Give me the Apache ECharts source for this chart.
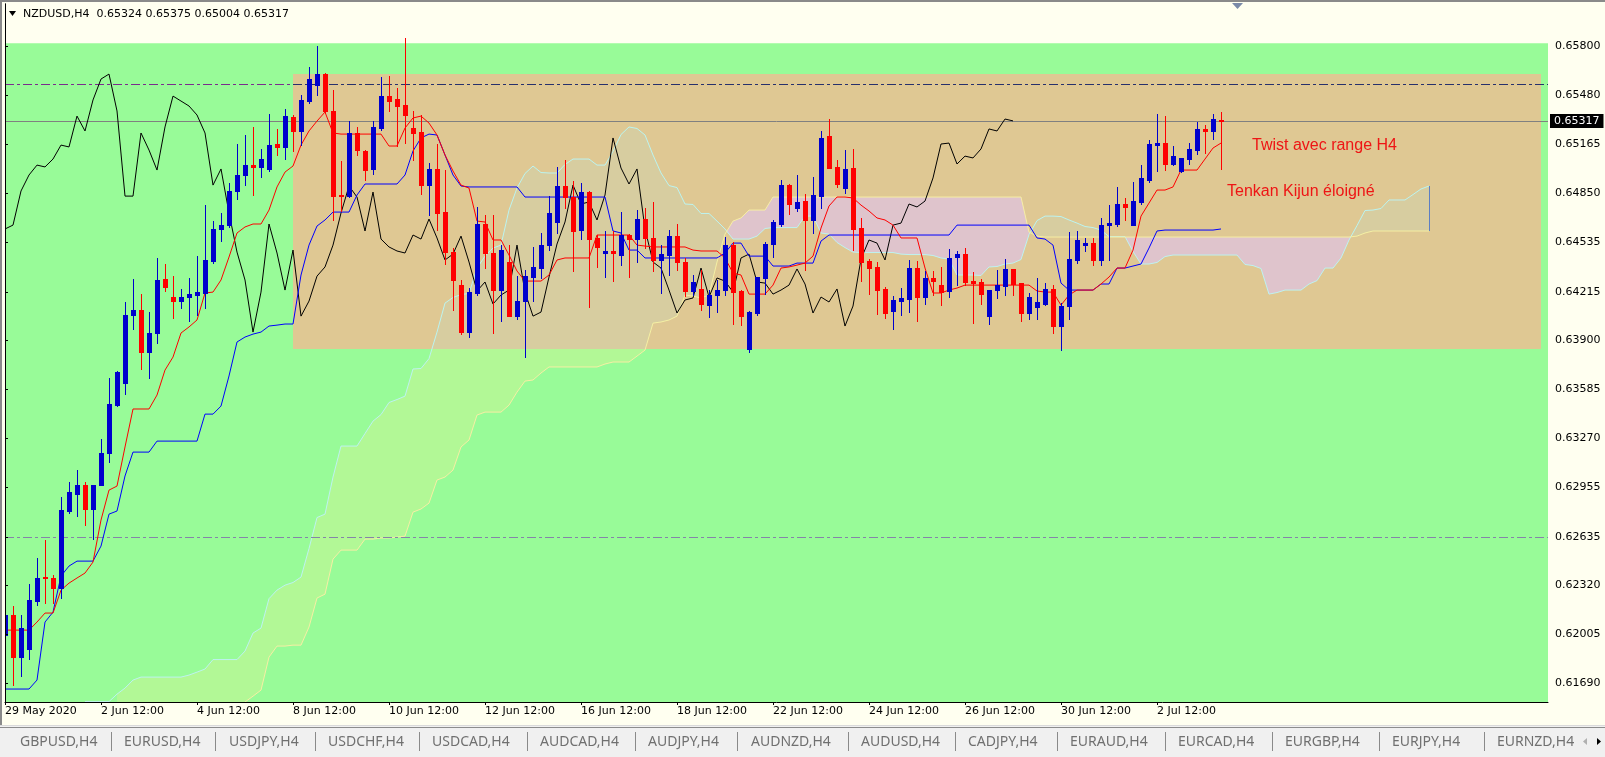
<!DOCTYPE html>
<html>
<head>
<meta charset="utf-8">
<title>NZDUSD,H4</title>
<script src="https://cdn.jsdelivr.net/npm/echarts@6.0.0/dist/echarts.min.js"></script>
<style>
  html, body { margin: 0; padding: 0; background: #FFFFF0; }
  #chart { width: 1605px; height: 757px; }
</style>
</head>
<body>
<div id="chart"></div>
<script>
// bougies H4 (index 0 = 29 May 2020 12:00)
var opens = [
  0.62001,0.6213,0.61859,0.61911,0.6222,0.62375,0.62369,0.62304,0.62801,0.6291,
  0.62968,0.62814,0.62968,0.63175,0.63484,0.63626,0.64065,0.64097,0.63826,0.63949,
  0.64297,0.64181,0.64155,0.64181,0.64194,0.64207,0.64413,0.6462,0.64645,0.64865,
  0.64968,0.65032,0.6502,0.65007,0.65168,0.65149,0.65342,0.65252,0.65445,0.65548,
  0.65619,0.65381,0.64839,0.64832,0.65239,0.65123,0.65007,0.65271,0.65477,0.65458,
  0.65419,0.65271,0.65245,0.64903,0.65007,0.64729,0.64471,0.64258,0.63955,0.64207,
  0.64652,0.64465,0.64226,0.64407,0.64058,0.64155,0.6431,0.64368,0.64516,0.64665,
  0.64897,0.64826,0.64613,0.64858,0.64562,0.64465,0.64478,0.64452,0.64581,0.64555,
  0.64684,0.64562,0.6442,0.64452,0.64574,0.64407,0.6422,0.64233,0.64129,0.64194,
  0.64226,0.64516,0.6422,0.63846,0.64078,0.64304,0.64523,0.64652,0.64903,0.64755,
  0.648,0.64678,0.64832,0.6522,0.6502,0.64884,0.65013,0.64626,0.64413,0.64375,
  0.64233,0.64091,0.64155,0.64168,0.64368,0.64181,0.64304,0.64258,0.6422,0.64439,
  0.64458,0.64284,0.64278,0.64058,0.64226,0.64252,0.64362,0.64271,0.64078,0.64117,
  0.64136,0.64233,0.63994,0.64123,0.6442,0.64516,0.64529,0.6442,0.64645,0.64652,
  0.64781,0.64645,0.64794,0.64936,0.65161,0.65174,0.65039,0.64994,0.65071,0.65129,
  0.65265,0.65252,0.65324
];
var highs = [
  0.62401,0.62188,0.6213,0.6233,0.62498,0.62614,0.62388,0.62891,0.62988,0.63065,
  0.62988,0.62968,0.63265,0.63659,0.63704,0.64149,0.64297,0.642,0.64084,0.64433,
  0.64394,0.64316,0.64233,0.64304,0.64445,0.64774,0.64671,0.64723,0.64916,0.65168,
  0.65226,0.65278,0.65136,0.65361,0.65265,0.65394,0.65355,0.65484,0.65665,0.658,
  0.65626,0.65516,0.65058,0.65316,0.65278,0.65129,0.65316,0.656,0.65606,0.65529,
  0.6585,0.65381,0.65355,0.65045,0.65168,0.65,0.64497,0.64291,0.64239,0.64762,
  0.6471,0.6471,0.64516,0.64516,0.64316,0.64355,0.64504,0.64594,0.64832,0.6502,
  0.65065,0.64929,0.64916,0.64865,0.64581,0.64607,0.64607,0.64729,0.64587,0.64742,
  0.64755,0.64794,0.64516,0.64613,0.64652,0.64433,0.64323,0.64355,0.64226,0.64291,
  0.64568,0.64536,0.64226,0.6409,0.6431,0.64536,0.64678,0.64936,0.6491,0.64968,
  0.64845,0.64955,0.65252,0.65329,0.65065,0.65129,0.65136,0.64691,0.64426,0.64407,
  0.64246,0.64187,0.64239,0.6442,0.64413,0.64349,0.64349,0.64375,0.64491,0.64478,
  0.64497,0.64342,0.64297,0.64226,0.64355,0.64426,0.64362,0.64271,0.64207,0.64304,
  0.64271,0.64258,0.64142,0.646,0.64607,0.64562,0.64562,0.64691,0.64774,0.64891,
  0.6482,0.64923,0.65032,0.65194,0.65361,0.65348,0.65155,0.65078,0.65174,0.6531,
  0.6529,0.65361,0.65375
];
var lows = [
  0.61988,0.61678,0.61736,0.61846,0.62194,0.62207,0.62207,0.6224,0.62788,0.62768,
  0.6271,0.6262,0.62968,0.63117,0.63478,0.63555,0.63975,0.63717,0.63659,0.63884,
  0.6422,0.64046,0.6411,0.64026,0.64065,0.6411,0.644,0.64542,0.64633,0.64813,
  0.64903,0.64839,0.64955,0.64994,0.65097,0.65071,0.65123,0.65161,0.65432,0.65484,
  0.65368,0.64678,0.64736,0.64826,0.65097,0.64936,0.64974,0.65258,0.65381,0.65155,
  0.65174,0.65065,0.64845,0.6471,0.64613,0.64394,0.64097,0.63942,0.63923,0.64194,
  0.64368,0.63949,0.64026,0.64058,0.64039,0.63794,0.64155,0.64304,0.64484,0.64594,
  0.64755,0.64349,0.64555,0.64117,0.64375,0.6431,0.64284,0.64387,0.6431,0.64407,
  0.64497,0.64349,0.64207,0.64323,0.64355,0.64187,0.64194,0.64097,0.64052,0.64084,
  0.64194,0.64007,0.64,0.63826,0.64065,0.642,0.64439,0.64639,0.64716,0.64736,
  0.64355,0.64594,0.64755,0.65013,0.64891,0.64852,0.64484,0.64284,0.642,0.64071,
  0.64046,0.63975,0.64065,0.64084,0.64026,0.64136,0.64194,0.64129,0.64181,0.64258,
  0.64258,0.64013,0.64136,0.64007,0.64175,0.64194,0.64194,0.64026,0.64039,0.64039,
  0.6413,0.63949,0.63839,0.64039,0.644,0.64478,0.64387,0.64387,0.6442,0.64639,
  0.64678,0.64645,0.64781,0.64923,0.64994,0.65,0.65035,0.64987,0.65039,0.65103,
  0.6511,0.652,0.65004
];
var closes = [
  0.6213,0.61859,0.62046,0.62227,0.62369,0.62369,0.62304,0.62807,0.62923,0.62968,
  0.62814,0.62968,0.63175,0.63491,0.63697,0.64065,0.64097,0.63826,0.63949,0.64291,
  0.64246,0.64155,0.64181,0.642,0.64213,0.6442,0.6462,0.64645,0.64865,0.64968,
  0.65032,0.6502,0.65071,0.65161,0.65149,0.65348,0.65252,0.65452,0.65587,0.65619,
  0.65381,0.64832,0.64832,0.65239,0.65129,0.65,0.65278,0.65477,0.65445,0.65413,
  0.65355,0.65239,0.64903,0.65007,0.64723,0.64471,0.64291,0.63955,0.64213,0.64652,
  0.64465,0.64226,0.64484,0.64058,0.64155,0.64316,0.64375,0.64516,0.64723,0.64897,
  0.64826,0.64607,0.64858,0.64555,0.64504,0.64478,0.64465,0.64581,0.64555,0.64684,
  0.64562,0.6442,0.64458,0.64574,0.64407,0.6422,0.64278,0.64136,0.64194,0.64226,
  0.64516,0.64213,0.64058,0.64084,0.6431,0.64523,0.64665,0.64903,0.64781,0.64794,
  0.64678,0.64839,0.65207,0.65013,0.6491,0.65007,0.6462,0.64407,0.64368,0.64226,
  0.64078,0.64162,0.64175,0.64368,0.64181,0.64304,0.64284,0.64213,0.64433,0.64458,
  0.64278,0.64271,0.642,0.64226,0.64258,0.64362,0.64265,0.64078,0.64181,0.64149,
  0.64233,0.63994,0.64123,0.64426,0.64549,0.64529,0.6442,0.64645,0.64658,0.64781,
  0.64762,0.648,0.64949,0.65168,0.65174,0.65039,0.6509,0.65078,0.65136,0.65265,
  0.65252,0.65329,0.65317
];

// Ichimoku
var tenkan = [
  0.62033,0.62033,0.62033,0.62033,0.62085,0.62143,0.62143,0.62291,0.62336,0.62369,
  0.62401,0.62472,0.62743,0.62936,0.62962,0.63214,0.63459,0.63459,0.63459,0.63549,
  0.6371,0.63794,0.63949,0.63988,0.64033,0.64207,0.64213,0.64291,0.64439,0.64594,
  0.64633,0.64652,0.64652,0.64742,0.64891,0.64987,0.65026,0.65161,0.65252,0.65316,
  0.65374,0.65239,0.65232,0.65232,0.65232,0.65232,0.65232,0.65232,0.65155,0.65155,
  0.65271,0.65336,0.65348,0.65303,0.65226,0.65097,0.64994,0.64903,0.64884,0.64671,
  0.64665,0.64549,0.64549,0.64452,0.64349,0.64284,0.64284,0.64284,0.64323,0.6442,
  0.64433,0.64433,0.64433,0.64433,0.64581,0.64581,0.64581,0.64581,0.64581,0.64516,
  0.6451,0.64504,0.64504,0.64504,0.64504,0.64504,0.64484,0.64478,0.64478,0.64478,
  0.64433,0.64336,0.64323,0.642,0.642,0.642,0.64258,0.64368,0.64375,0.64387,
  0.644,0.64445,0.64626,0.64768,0.64826,0.64826,0.6482,0.64774,0.64736,0.64691,
  0.64678,0.64645,0.64562,0.64562,0.64562,0.64368,0.64207,0.64207,0.64226,0.64239,
  0.64258,0.64258,0.64258,0.64258,0.64258,0.64258,0.64258,0.64258,0.64258,0.6422,
  0.64213,0.64213,0.64129,0.64194,0.64226,0.64226,0.64226,0.64265,0.6431,0.64368,
  0.64368,0.64484,0.64703,0.64787,0.64871,0.64871,0.64891,0.65,0.65,0.65,
  0.65071,0.65142,0.65174
];
var kijun = [
  0.61653,0.61653,0.61653,0.61653,0.61711,0.62085,0.62149,0.62382,0.62446,0.62478,
  0.62478,0.62478,0.62575,0.62781,0.62801,0.63027,0.63181,0.63181,0.63181,0.63252,
  0.63252,0.63252,0.63252,0.63252,0.63252,0.63426,0.63426,0.63478,0.63672,0.63891,
  0.63923,0.63942,0.63955,0.63994,0.64,0.64007,0.64007,0.64323,0.64516,0.64639,
  0.64678,0.64729,0.64729,0.64729,0.64839,0.6491,0.6491,0.6491,0.6491,0.6491,
  0.64968,0.65123,0.65207,0.65232,0.65226,0.65097,0.64968,0.64897,0.64891,0.64891,
  0.64891,0.64891,0.64891,0.64891,0.64891,0.64826,0.64826,0.64826,0.64826,0.64826,
  0.64826,0.64826,0.64826,0.64826,0.64826,0.64826,0.64607,0.64594,0.64484,0.64484,
  0.64433,0.64433,0.64433,0.64433,0.64433,0.64433,0.64433,0.64433,0.64433,0.64433,
  0.64465,0.64529,0.64529,0.64445,0.64445,0.64445,0.64381,0.64381,0.64381,0.644,
  0.644,0.644,0.64542,0.64581,0.64581,0.64581,0.64581,0.64581,0.64581,0.64581,
  0.64581,0.64581,0.64581,0.64581,0.64581,0.64581,0.64581,0.64581,0.64581,0.64645,
  0.64645,0.64645,0.64645,0.64645,0.64645,0.64645,0.64645,0.64645,0.64645,0.64562,
  0.64555,0.64516,0.64271,0.64226,0.64226,0.64226,0.64226,0.64265,0.64265,0.64368,
  0.64368,0.64381,0.64394,0.64497,0.64607,0.64613,0.64613,0.64613,0.64613,0.64613,
  0.64613,0.64613,0.6462
];
// Senkou A / B (index = barre, projetees 26 barres en avant)
var spanA = [
  null,null,null,null,null,null,null,null,null,null,
  0.61572,0.61572,0.61572,0.61572,0.6162,0.61659,0.61711,0.6173,0.6173,0.6173,
  0.6173,0.6173,0.6173,0.61743,0.61762,0.61782,0.61843,0.61843,0.61843,0.61843,
  0.61898,0.62014,0.62046,0.62236,0.62291,0.62323,0.6234,0.62375,0.62559,0.62759,
  0.62781,0.6302,0.6322,0.6322,0.6322,0.63301,0.63381,0.63423,0.63501,0.6352,
  0.63542,0.63717,0.6372,0.63784,0.63955,0.64142,0.64178,0.64197,0.64204,0.64368,
  0.64445,0.64497,0.64516,0.64742,0.64884,0.64978,0.65026,0.64984,0.64981,0.64981,
  0.65036,0.65071,0.65071,0.65071,0.65032,0.65032,0.6512,0.65229,0.65278,0.65268,
  0.65226,0.65097,0.64981,0.649,0.64887,0.64781,0.64778,0.6472,0.6472,0.64671,
  0.6462,0.64555,0.64555,0.64555,0.64574,0.64623,0.64629,0.64629,0.64629,0.64629,
  0.64703,0.64703,0.64594,0.64587,0.64533,0.645,0.64471,0.64468,0.64468,0.64468,
  0.64468,0.64468,0.64458,0.64455,0.64455,0.64455,0.64449,0.64433,0.64426,0.64323,
  0.64323,0.64323,0.6432,0.64375,0.64378,0.64394,0.644,0.64423,0.64584,0.64674,
  0.64703,0.64703,0.647,0.64678,0.64658,0.64636,0.64629,0.64613,0.64571,0.64571,
  0.64571,0.64475,0.64394,0.64394,0.64404,0.64442,0.64452,0.64452,0.64452,0.64452,
  0.64452,0.64452,0.64452,0.64452,0.64452,0.64391,0.64384,0.64365,0.642,0.6421,
  0.64226,0.64226,0.64226,0.64265,0.64287,0.64368,0.64368,0.64433,0.64549,0.64642,
  0.64739,0.64742,0.64752,0.64807,0.64807,0.64807,0.64842,0.64878,0.64897
];
var spanB = [
  null,null,null,null,null,null,null,null,null,null,
  null,null,null,null,0.6145,0.6145,0.6145,0.6145,0.6145,0.6145,
  0.6145,0.6145,0.6145,0.6145,0.6145,0.6145,0.6145,0.6145,0.6145,0.6145,
  0.61569,0.61607,0.61646,0.61859,0.6193,0.6193,0.61936,0.61936,0.62053,0.6224,
  0.62265,0.62491,0.62549,0.62549,0.62549,0.6262,0.6262,0.62627,0.62627,0.62633,
  0.62639,0.62794,0.62814,0.62852,0.63001,0.6302,0.63065,0.63214,0.63259,0.6342,
  0.63439,0.63439,0.63439,0.63484,0.63568,0.63639,0.63646,0.63691,0.6373,0.6373,
  0.6373,0.6373,0.6373,0.6373,0.6373,0.63749,0.63762,0.63762,0.63762,0.638,
  0.63839,0.64013,0.6402,0.64033,0.64058,0.64194,0.64187,0.64175,0.64194,0.64407,
  0.64587,0.64671,0.64691,0.64742,0.64742,0.64742,0.64826,0.64826,0.64826,0.64826,
  0.64826,0.64826,0.64826,0.64826,0.64826,0.64826,0.64826,0.64826,0.64826,0.64826,
  0.64826,0.64826,0.64826,0.64826,0.64826,0.64826,0.64826,0.64826,0.64826,0.64826,
  0.64826,0.64826,0.64826,0.64826,0.64826,0.64826,0.64826,0.64826,0.646,0.64574,
  0.64568,0.64568,0.64568,0.64568,0.64568,0.64568,0.64568,0.64568,0.64568,0.64568,
  0.64568,0.64568,0.64568,0.64568,0.64568,0.64568,0.64568,0.64568,0.64568,0.64568,
  0.64568,0.64568,0.64568,0.64568,0.64568,0.64568,0.64568,0.64568,0.64568,0.64568,
  0.64568,0.64568,0.64568,0.64568,0.64568,0.64568,0.64568,0.64568,0.64568,0.64574,
  0.64594,0.64607,0.64607,0.64607,0.64607,0.64607,0.64607,0.64607,0.64607
];

var timeLabels = ['29 May 2020','2 Jun 12:00','4 Jun 12:00','8 Jun 12:00','10 Jun 12:00','12 Jun 12:00',
  '16 Jun 12:00','18 Jun 12:00','22 Jun 12:00','24 Jun 12:00','26 Jun 12:00','30 Jun 12:00','2 Jul 12:00'];
var labelBars = [0,12,24,36,48,60,72,84,96,108,120,132,144];
var priceTicks = [0.658,0.6548,0.65165,0.6485,0.64535,0.64215,0.639,0.63585,0.6327,0.62955,0.62635,0.6232,0.62005,0.6169];
var levels = [0.65555, 0.62635];          // lignes horizontales tiret-point
var greenZone = [0.6500, 0.65817];        // haut du rectangle vert
var rangeBox = { x1: 36, x2: 192, y1: 0.638459, y2: 0.656194 }; // range H4 (beige)
var tabs = ['GBPUSD,H4','EURUSD,H4','USDJPY,H4','USDCHF,H4','USDCAD,H4','AUDCAD,H4','AUDJPY,H4','AUDNZD,H4',
  'AUDUSD,H4','CADJPY,H4','EURAUD,H4','EURCAD,H4','EURGBP,H4','EURJPY,H4','EURNZD,H4'];

var last = closes.length - 1;
var Y_MIN = 0.615694, Y_MAX = 0.660709, X_MAX = 192.875;
var FONT = 'DejaVu Sans';

function pairs(arr) {
  var out = [];
  for (var i = 0; i < arr.length; i++) {
    if (arr[i] != null) out.push([i, arr[i]]);
  }
  return out;
}

// bougies façon MT4 : corps 5px, meche 1px
function renderCandle(params, api) {
  var x = api.value(0), o = api.value(1), c = api.value(2), l = api.value(3), h = api.value(4);
  var pO = api.coord([x, o]), pC = api.coord([x, c]);
  var pL = api.coord([x, l]), pH = api.coord([x, h]);
  var cx = Math.round(pO[0]);
  var color = c >= o ? '#0000CD' : '#FF0000';
  var top = Math.round(Math.min(pO[1], pC[1])), bot = Math.round(Math.max(pO[1], pC[1]));
  var hy = Math.round(pH[1]), ly = Math.round(pL[1]);
  return {
    type: 'group',
    children: [
      { type: 'rect', shape: { x: cx, y: hy, width: 1, height: Math.max(1, ly - hy + 1) }, style: { fill: color } },
      { type: 'rect', shape: { x: cx - 2, y: top, width: 5, height: Math.max(1, bot - top + 1) }, style: { fill: color } }
    ]
  };
}

// nuage : polygones par zone de meme signe (A-B)
function cloudRenderer(upColor, dnColor, withEnd) {
  return function (params, api) {
    var children = [];
    var runA = [], runB = [], sign = 0, prev = -1;
    function flush() {
      if (runA.length > 1) {
        children.push({
          type: 'polygon',
          shape: { points: runA.concat(runB.slice().reverse()) },
          style: { fill: sign >= 0 ? upColor : dnColor }
        });
      }
    }
    for (var i = 0; i < spanA.length; i++) {
      var a = spanA[i], b = spanB[i];
      if (a == null || b == null) continue;
      var d = a - b;
      var s = d > 0 ? 1 : (d < 0 ? -1 : sign);
      if (prev < 0) {
        sign = s;
        runA.push(api.coord([i, a])); runB.push(api.coord([i, b]));
        prev = i;
        continue;
      }
      if (s !== sign && sign !== 0) {
        var pa = spanA[prev], pb = spanB[prev], pd = pa - pb;
        var t = pd / (pd - d);
        var pc = api.coord([prev + t, pa + t * (a - pa)]);
        runA.push(pc); runB.push(pc);
        flush();
        runA = [pc]; runB = [pc];
        sign = s;
      }
      runA.push(api.coord([i, a])); runB.push(api.coord([i, b]));
      prev = i;
    }
    flush();
    if (withEnd) {
      var e = spanA.length - 1;
      var p1 = api.coord([e, spanA[e]]), p2 = api.coord([e, spanB[e]]);
      var ex = Math.round(p1[0]) + 0.5;
      children.push({ type: 'line', shape: { x1: ex, y1: p1[1], x2: ex, y2: p2[1] },
        style: { stroke: '#5B7FC4', lineWidth: 1 } });
    }
    return { type: 'group', children: children };
  };
}

var candleData = opens.map(function (o, i) { return [i, o, closes[i], lows[i], highs[i]]; });
var chikouData = closes.slice(26).map(function (c, i) { return [i, c]; });

var dashDot = [9, 3, 3, 3];
var bid = closes[last];

var graphics = [];
// en-tete
graphics.push({ type: 'polygon', shape: { points: [[9, 11], [16, 11], [12.5, 16]] }, style: { fill: '#000' } });
graphics.push({ type: 'text', x: 23, y: 14, style: {
  text: 'NZDUSD,H4  ' + [opens[last], highs[last], lows[last], closes[last]].map(function (v) { return v.toFixed(5); }).join(' '),
  font: '11px "' + FONT + '"', fill: '#000', verticalAlign: 'middle' } });
// repere de decalage
graphics.push({ type: 'polygon', shape: { points: [[1232, 3], [1243, 3], [1237.5, 9]] }, style: { fill: '#7A8AA8' } });
// annotations
graphics.push({ type: 'text', x: 1252, y: 146, style: { text: 'Twist avec range H4',
  font: '16px "Liberation Sans"', fill: '#EE1515', verticalAlign: 'middle' } });
graphics.push({ type: 'text', x: 1227, y: 192, style: { text: 'Tenkan Kijun éloigné',
  font: '16px "Liberation Sans"', fill: '#EE1515', verticalAlign: 'middle' } });
// cadre
graphics.push({ type: 'rect', shape: { x: 0, y: 0, width: 2, height: 726 }, style: { fill: '#8A8A8A' } });
graphics.push({ type: 'rect', shape: { x: 0, y: 0, width: 1605, height: 2 }, style: { fill: '#8A8A8A' } });
// barre d'onglets
graphics.push({ type: 'rect', shape: { x: 0, y: 725, width: 1605, height: 32 }, style: { fill: '#F0F0F0' } });
graphics.push({ type: 'rect', shape: { x: 0, y: 725, width: 1605, height: 1 }, style: { fill: '#DADADA' } });
graphics.push({ type: 'rect', shape: { x: 0, y: 727, width: 1605, height: 1 }, style: { fill: '#8C8C8C' } });
var tabX = [20, 124, 229, 328, 432, 540, 648, 751, 861, 968, 1070, 1178, 1285, 1392, 1497];
var sepX = [111.5, 215.5, 315.5, 419.5, 527.5, 635.5, 737.5, 848.5, 955.5, 1057.5, 1165.5, 1272.5, 1379.5, 1484.5];
tabs.forEach(function (t, i) {
  graphics.push({ type: 'text', x: tabX[i], y: 742, style: { text: t, font: '14px "Noto Sans"', fill: '#707070', verticalAlign: 'middle' } });
});
sepX.forEach(function (x) {
  graphics.push({ type: 'line', shape: { x1: x, y1: 732, x2: x, y2: 751 }, style: { stroke: '#8A8A8A', lineWidth: 1 } });
});
graphics.push({ type: 'rect', shape: { x: 1579, y: 729, width: 26, height: 28 }, style: { fill: '#F0F0F0' } });
graphics.push({ type: 'polygon', shape: { points: [[1587, 738], [1587, 745], [1583, 741.5]] }, style: { fill: '#B0B0B0' } });
graphics.push({ type: 'polygon', shape: { points: [[1597, 738], [1597, 745], [1601, 741.5]] }, style: { fill: '#000' } });
graphics.forEach(function (g) { g.z = 100; g.silent = true; });

var option = {
  animation: false,
  backgroundColor: '#FFFFF0',
  grid: [
    { left: 5, right: 57, top: 4, bottom: 55 },
    { left: 293, right: 64, top: 74, bottom: 408 }
  ],
  xAxis: [
    {
      type: 'value', gridIndex: 0, min: 0, max: X_MAX, position: 'bottom', z: 10,
      axisLine: { show: true, lineStyle: { color: '#000', width: 1 } },
      axisTick: { show: true, length: 3, customValues: labelBars, lineStyle: { color: '#000' } },
      axisLabel: {
        customValues: labelBars, align: 'left', margin: 4, color: '#000',
        fontFamily: FONT, fontSize: 11,
        formatter: function (v) { return timeLabels[labelBars.indexOf(Math.round(v))] || ''; }
      },
      splitLine: { show: false }
    },
    { type: 'value', gridIndex: 1, min: rangeBox.x1, max: rangeBox.x2, show: false }
  ],
  yAxis: [
    {
      type: 'value', gridIndex: 0, min: Y_MIN, max: Y_MAX, position: 'right', z: 10,
      axisLine: { show: true, lineStyle: { color: '#000', width: 1 } },
      axisTick: { show: true, length: 3, customValues: priceTicks, lineStyle: { color: '#000' } },
      axisLabel: {
        customValues: priceTicks, margin: 7, color: '#000', fontFamily: FONT, fontSize: 11,
        formatter: function (v) { return v.toFixed(5); }
      },
      splitLine: { show: false }
    },
    { type: 'value', gridIndex: 1, min: rangeBox.y1, max: rangeBox.y2, show: false },
    {
      type: 'value', gridIndex: 0, min: Y_MIN, max: Y_MAX, position: 'left', z: 10,
      axisLine: { show: true, lineStyle: { color: '#000', width: 1 } },
      axisTick: { show: false }, axisLabel: { show: false }, splitLine: { show: false }
    }
  ],
  graphic: graphics,
  series: [
    {
      // fonds : zone verte + rectangle du range
      type: 'line', xAxisIndex: 0, yAxisIndex: 0, z: 1, silent: true,
      data: [[100, 0.645]], showSymbol: false, lineStyle: { width: 0 },
      markArea: {
        silent: true, label: { show: false },
        data: [
          [{ coord: [0, greenZone[1]], itemStyle: { color: '#98FB98', opacity: 1 } }, { coord: [X_MAX, Y_MIN] }],
          [{ coord: [rangeBox.x1, rangeBox.y2], itemStyle: { color: '#DFC893', opacity: 1 } }, { coord: [rangeBox.x2, rangeBox.y1] }]
        ]
      }
    },
    {
      name: 'cloud', type: 'custom', xAxisIndex: 0, yAxisIndex: 0, z: 3, clip: true, silent: true,
      renderItem: cloudRenderer('#B2F896', '#E0C6CE', false),
      data: [[100, 0.645]]
    },
    {
      name: 'cloudRange', type: 'custom', xAxisIndex: 1, yAxisIndex: 1, z: 3, clip: true, silent: true,
      renderItem: cloudRenderer('#D7CDA0', '#DFC4CC', true),
      data: [[100, 0.645]]
    },
    {
      name: 'Senkou A', type: 'line', xAxisIndex: 0, yAxisIndex: 0, z: 4, showSymbol: false, silent: true,
      data: pairs(spanA), lineStyle: { color: '#BDF2F0', width: 1 }
    },
    {
      name: 'Senkou B', type: 'line', xAxisIndex: 0, yAxisIndex: 0, z: 4, showSymbol: false, silent: true,
      data: pairs(spanB), lineStyle: { color: '#F6EEA4', width: 1 }
    },
    {
      name: 'Chikou', type: 'line', xAxisIndex: 0, yAxisIndex: 0, z: 5, showSymbol: false, silent: true,
      data: chikouData, lineStyle: { color: '#000', width: 1 }
    },
    {
      name: 'Kijun', type: 'line', xAxisIndex: 0, yAxisIndex: 0, z: 5, showSymbol: false, silent: true,
      data: pairs(kijun), lineStyle: { color: '#0000FF', width: 1 }
    },
    {
      name: 'Tenkan', type: 'line', xAxisIndex: 0, yAxisIndex: 0, z: 5, showSymbol: false, silent: true,
      data: pairs(tenkan), lineStyle: { color: '#FF0000', width: 1 },
      markLine: {
        silent: true, symbol: ['none', 'none'], animation: false, precision: 5,
        label: { show: false },
        data: [
          [{ coord: [0, levels[0]], lineStyle: { color: '#7A2C8C', type: dashDot, width: 1 } }, { coord: [rangeBox.x1, levels[0]] }],
          [{ coord: [rangeBox.x1, levels[0]], lineStyle: { color: '#27306C', type: dashDot, width: 1 } }, { coord: [X_MAX, levels[0]] }],
          [{ coord: [0, levels[1]], lineStyle: { color: '#8584A8', type: dashDot, width: 1 } }, { coord: [X_MAX, levels[1]] }],
          [
            {
              coord: [0, bid], lineStyle: { color: '#808080', type: 'solid', width: 1 },
              label: {
                show: true, position: 'end', distance: 2, formatter: bid.toFixed(5),
                color: '#fff', backgroundColor: '#000', padding: [2, 4, 1, 4], fontFamily: FONT, fontSize: 11
              }
            },
            { coord: [X_MAX, bid] }
          ]
        ]
      }
    },
    {
      name: 'NZDUSD', type: 'custom', xAxisIndex: 0, yAxisIndex: 0, z: 6, clip: true, silent: true,
      renderItem: renderCandle, data: candleData
    }
  ]
};

var chart = echarts.init(document.getElementById('chart'));
chart.setOption(option);
</script>
</body>
</html>
